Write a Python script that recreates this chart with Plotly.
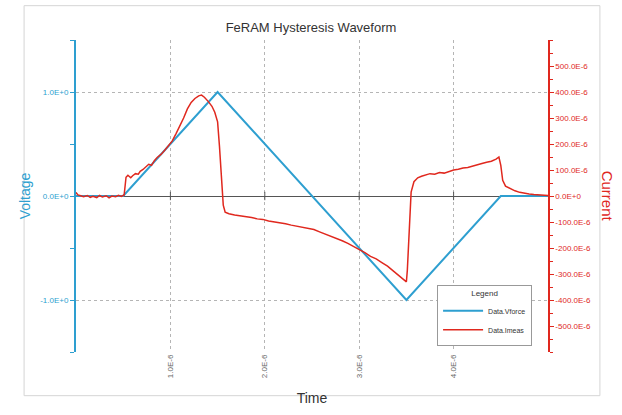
import plotly.graph_objects as go

# ---- data ----
v_time_us = [0.0, 0.5, 1.5, 3.5, 4.5, 5.0]
v_force = [0.0, 0.0, 1.0, -1.0, 0.0, 0.0]

i_time_us = [0.0, 0.02, 0.05, 0.08, 0.12, 0.15, 0.18, 0.22, 0.25, 0.28, 0.32, 0.35, 0.38, 0.42, 0.45, 0.48, 0.51,
             0.53, 0.55, 0.58, 0.6, 0.63, 0.66, 0.68, 0.71, 0.74, 0.77, 0.8, 0.83, 0.86, 0.9, 0.94, 0.98, 1.02,
             1.06, 1.1, 1.14, 1.18, 1.22, 1.26, 1.3, 1.33, 1.36, 1.4, 1.44, 1.47, 1.5, 1.52, 1.54, 1.56, 1.58,
             1.62, 1.68, 1.74, 1.8, 1.86, 1.92, 1.98, 2.04, 2.1, 2.16, 2.22, 2.28, 2.34, 2.4, 2.46, 2.52, 2.58,
             2.64, 2.7, 2.76, 2.82, 2.88, 2.94, 3.0, 3.06, 3.12, 3.18, 3.24, 3.3, 3.36, 3.42, 3.47, 3.5, 3.51,
             3.53, 3.55, 3.58, 3.62, 3.66, 3.7, 3.75, 3.8, 3.85, 3.9, 3.95, 4.0, 4.05, 4.1, 4.15, 4.2, 4.25,
             4.3, 4.35, 4.4, 4.45, 4.48, 4.5, 4.52, 4.55, 4.6, 4.65, 4.7, 4.75, 4.8, 4.85, 4.9, 4.95, 5.0]
i_meas_ua = [14, 4, 1, -3, 2, -5, -1, -6, 2, -4, 1, -7, 0, -3, 3, -2, 4,
             72, 80, 70, 78, 86, 84, 95, 102, 112, 122, 118, 136, 148, 160, 176, 192, 212,
             240, 268, 300, 335, 360, 375, 385, 388, 380, 364, 345, 322, 285, 190, 50, -35, -62,
             -68, -73, -76, -80, -83, -88, -90, -96, -99, -104, -107, -112, -116, -119, -124, -129, -138,
             -146, -154, -162, -172, -182, -193, -205, -218, -232, -242, -256, -270, -288, -305, -322, -330, -285,
             -110, 15, 55, 70, 76, 80, 86, 84, 90, 88, 95, 100, 103, 108, 110, 116, 122,
             125, 130, 134, 142, 150, 118, 60, 38, 28, 20, 14, 10, 8, 6, 5, 3, 2]

v_time = [t * 1e-6 for t in v_time_us]
i_time = [t * 1e-6 for t in i_time_us]
i_meas = [a * 1e-6 for a in i_meas_ua]

x_ticks = [1e-6, 2e-6, 3e-6, 4e-6]
x_ticktext = ["1.0E-6", "2.0E-6", "3.0E-6", "4.0E-6"]
v_ticks = [-1.0, 0.0, 1.0]
v_ticktext = ["-1.0E+0", "0.0E+0", "1.0E+0"]
i_ticks = [-500e-6, -400e-6, -300e-6, -200e-6, -100e-6, 0.0, 100e-6, 200e-6, 300e-6, 400e-6, 500e-6]
i_ticktext = ["-500.0E-6", "-400.0E-6", "-300.0E-6", "-200.0E-6", "-100.0E-6", "0.0E+0",
              "100.0E-6", "200.0E-6", "300.0E-6", "400.0E-6", "500.0E-6"]

BLUE = "#2e9fd0"
RED = "#e0281e"
FONT = "Liberation Sans"

fig = go.Figure()
fig.add_trace(go.Scatter(x=v_time, y=v_force, mode="lines", name="Data.Vforce",
                         line=dict(color=BLUE, width=2), yaxis="y"))
fig.add_trace(go.Scatter(x=i_time, y=i_meas, mode="lines", name="Data.Imeas",
                         line=dict(color=RED, width=1.5), yaxis="y2"))
# small tick marks on the zero line
fig.add_trace(go.Scatter(x=x_ticks, y=[0] * len(x_ticks), mode="markers", showlegend=False,
                         marker=dict(symbol="line-ns", size=6, line=dict(color="#555", width=1)),
                         hoverinfo="skip", yaxis="y"))

fig.update_layout(
    width=622, height=415,
    margin=dict(l=76, r=74, t=40, b=63),
    paper_bgcolor="white", plot_bgcolor="white",
    font=dict(family=FONT, size=8, color="#444"),
    title=dict(text="FeRAM Hysteresis Waveform", x=0.5, xanchor="center", y=0.935, yanchor="middle",
               font=dict(size=13, color="#333", family=FONT)),
    xaxis=dict(range=[0, 5e-6], tickvals=x_ticks, ticktext=x_ticktext, tickangle=-90,
               showgrid=True, gridcolor="#b5b5b5", griddash="dot", gridwidth=1,
               zeroline=False, showline=False, ticks="",
               tickfont=dict(size=8, color="#666"),
               title=dict(text="Time", font=dict(size=14, color="#333"), standoff=16)),
    yaxis=dict(range=[-1.5, 1.5], tickvals=v_ticks, ticktext=v_ticktext,
               showgrid=True, gridcolor="#b5b5b5", griddash="dot", gridwidth=1,
               zeroline=True, zerolinecolor="#555", zerolinewidth=1,
               showline=True, linecolor=BLUE, linewidth=2,
               ticks="outside", ticklen=4, tickcolor=BLUE,
               minor=dict(tickvals=[-1.5, -0.5, 0.5, 1.5], ticks="outside", ticklen=4, tickcolor=BLUE),
               tickfont=dict(size=8, color=BLUE),
               title=dict(text="Voltage", font=dict(size=14, color=BLUE), standoff=6)),
    yaxis2=dict(range=[-600e-6, 600e-6], tickvals=i_ticks, ticktext=i_ticktext,
                overlaying="y", side="right", showgrid=False, zeroline=False,
                showline=True, linecolor=RED, linewidth=1.5,
                ticks="outside", ticklen=4, tickcolor=RED,
                minor=dict(dtick=50e-6, ticks="outside", ticklen=3, tickcolor=RED),
                tickfont=dict(size=8, color=RED)),
    legend=dict(x=0.765, y=0.215, xanchor="left", yanchor="top",
                bgcolor="white", bordercolor="#999", borderwidth=1,
                title=dict(text="Legend", side="top center", font=dict(size=8, color="#333")),
                font=dict(size=7, color="#333"), tracegroupgap=0, itemwidth=40),
    annotations=[dict(text="Current", x=1.15, y=0.5, xref="paper", yref="paper", showarrow=False,
                      textangle=90, font=dict(size=15, color=RED, family=FONT))],
    shapes=[dict(type="rect", xref="paper", yref="paper", x0=-0.11, x1=1.11, y0=-0.14, y1=1.11,
                 line=dict(color="#d5d5d5", width=1))],
)
fig.write_html("out.html")
